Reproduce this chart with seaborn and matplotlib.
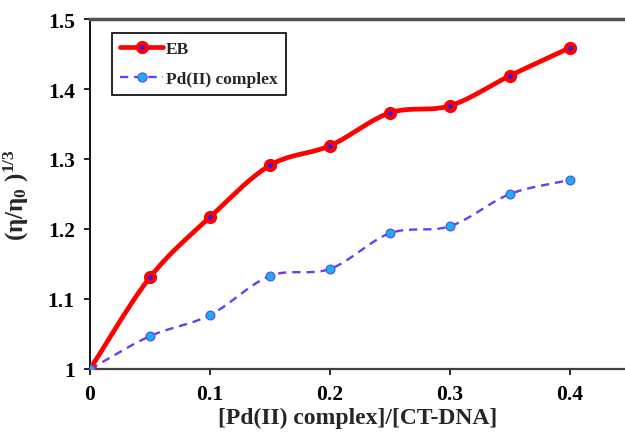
import numpy as np
import pandas as pd
import matplotlib
matplotlib.use("Agg")
import matplotlib.pyplot as plt
import seaborn as sns
from matplotlib.lines import Line2D

ratio = [0, 0.05, 0.1, 0.15, 0.2, 0.25, 0.3, 0.35, 0.4]
eb = [1.0, 1.131, 1.217, 1.291, 1.319, 1.366, 1.376, 1.419, 1.459]
pd_complex = [1.0, 1.047, 1.077, 1.133, 1.143, 1.194, 1.204, 1.250, 1.270]
series_names = ["EB", "Pd(II) complex"]
xticks = [0, 0.1, 0.2, 0.3, 0.4]
yticks = [1, 1.1, 1.2, 1.3, 1.4, 1.5]
ytick_labels = ["1", "1.1", "1.2", "1.3", "1.4", "1.5"]

sns.set_theme(style="white")
plt.rcParams["font.family"] = ["Liberation Serif", "DejaVu Serif"]
plt.rcParams["font.weight"] = "bold"
plt.rcParams["mathtext.fontset"] = "custom"
plt.rcParams["mathtext.rm"] = "Liberation Serif:bold"
plt.rcParams["mathtext.bf"] = "Liberation Serif:bold"
plt.rcParams["mathtext.it"] = "Liberation Serif:bold"
plt.rcParams["mathtext.default"] = "rm"


def smooth(x, y, n=20):
    # Catmull-Rom style smoothing for the connecting line (rendering only)
    x = np.asarray(x, float)
    y = np.asarray(y, float)
    px = np.concatenate([[2 * x[0] - x[1]], x, [2 * x[-1] - x[-2]]])
    py = np.concatenate([[2 * y[0] - y[1]], y, [2 * y[-1] - y[-2]]])
    xs, ys = [], []
    t = np.linspace(0, 1, n, endpoint=False)
    for i in range(1, len(px) - 2):
        for arr, out in ((px, xs), (py, ys)):
            p0, p1, p2, p3 = arr[i - 1], arr[i], arr[i + 1], arr[i + 2]
            out.extend(0.5 * ((2 * p1) + (-p0 + p2) * t
                              + (2 * p0 - 5 * p1 + 4 * p2 - p3) * t ** 2
                              + (-p0 + 3 * p1 - 3 * p2 + p3) * t ** 3))
    xs.append(x[-1]); ys.append(y[-1])
    return np.array(xs), np.array(ys)


fig = plt.figure(figsize=(6.25, 4.35), dpi=100)
ax = fig.add_axes([90 / 625, 1 - 370 / 435, 1 - 90 / 625, 350 / 435])

df = pd.DataFrame({"ratio": ratio, "EB": eb, "Pd": pd_complex})

red = "#ff0000"
violet = "#6a3cf5"
cyan = "#1ab0f0"

sx, sy = smooth(ratio, eb)
ax.plot(sx, sy, color=red, lw=3.4, zorder=3)
sx2, sy2 = smooth(ratio, pd_complex)
ax.plot(sx2, sy2, color=violet, lw=1.7, ls=(0, (3.5, 2.5)), zorder=3)

sns.scatterplot(data=df, x="ratio", y="EB", ax=ax, s=42, color="#2020ff",
                edgecolor=red, linewidth=3.0, zorder=4, legend=False)
sns.scatterplot(data=df, x="ratio", y="Pd", ax=ax, s=40, color=cyan,
                edgecolor="#5a50f0", linewidth=0.9, zorder=5, legend=False)

h1 = Line2D([], [], color=red, lw=3.4, marker="o", markersize=6.5,
            markerfacecolor="#2020ff", markeredgecolor=red, markeredgewidth=3.0)
h2 = Line2D([], [], color=violet, lw=1.7, ls=(0, (3.5, 2.5)), marker="o",
            markersize=6.5, markerfacecolor=cyan, markeredgecolor="#5a50f0",
            markeredgewidth=0.9)
leg = ax.legend([h1, h2], series_names, loc="upper left",
                bbox_to_anchor=(0.035, 0.97), frameon=True, fancybox=False,
                edgecolor="black", framealpha=1, borderpad=0.45,
                handlelength=2.5, handletextpad=0.15, labelspacing=0.8,
                borderaxespad=0.2,
                prop={"family": "Liberation Serif", "weight": "bold", "size": 12.5})
leg.get_frame().set_linewidth(1.2)

ax.set_xlim(0, 535 / 1200)
ax.set_ylim(1, 1.5)
ax.set_xticks(xticks)
ax.set_xticklabels([f"{v:g}" for v in xticks])
ax.set_yticks(yticks)
ax.set_yticklabels(ytick_labels)
ax.tick_params(axis="both", labelsize=15.5, direction="out", length=4,
               width=1.2, colors="black", bottom=True, left=True, pad=7)
for lab in ax.get_xticklabels() + ax.get_yticklabels():
    lab.set_fontweight("bold")

ax.spines["left"].set_color("black")
ax.spines["left"].set_linewidth(1.3)
ax.spines["bottom"].set_color("#404040")
ax.spines["bottom"].set_linewidth(1.6)
ax.spines["top"].set_color("#505050")
ax.spines["top"].set_linewidth(2.5)
ax.spines["right"].set_visible(False)

ax.set_xlabel("[Pd(II) complex]/[CT-DNA]", fontsize=17, fontweight="bold", labelpad=2)
ax.set_ylabel(r"(η/η$_{0}$ )$^{1/3}$", fontsize=18, fontweight="bold", labelpad=12)

fig.savefig("out.png", dpi=100)
